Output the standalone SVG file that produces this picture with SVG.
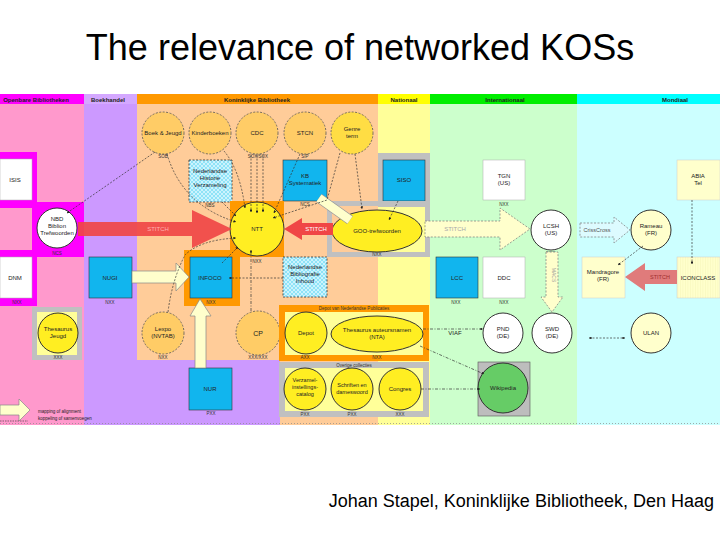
<svg xmlns="http://www.w3.org/2000/svg" width="720" height="540" viewBox="0 0 720 540">
<defs>
<style>
text{font-family:"Liberation Sans",Arial,sans-serif;fill:#222}
.title{font-size:36px;fill:#000}
.foot{font-size:18px;fill:#000}
.hdr{font-size:6px;font-weight:bold;text-anchor:middle;fill:#222}
.t{font-size:6px;text-anchor:middle}
.s{font-size:4.5px;text-anchor:middle;fill:#333}
.kc{fill:#ffcc66;stroke:#555;stroke-width:.8;stroke-dasharray:2 1.5}
.yc{fill:#ffee22;stroke:#333;stroke-width:1}
.wc{fill:#fff;stroke:#333;stroke-width:1}
.lc{fill:#ffffcc;stroke:#333;stroke-width:1}
.bb{fill:#11b5ee;stroke:#333;stroke-width:.6}
.wb{fill:#fff;stroke:#aaa;stroke-width:.5}
.lb{fill:#ffffcc;stroke:#ccc;stroke-width:.5}
.hb{fill:url(#hatch);stroke:#333;stroke-width:.8;stroke-dasharray:2 1.5}
.dsh{fill:none;stroke:#333;stroke-width:.7;stroke-dasharray:2 1.5}
.dd{fill:none;stroke:#333;stroke-width:.7;stroke-dasharray:3 1.5 1 1.5}
.la{fill:#ffffcc;stroke:#888;stroke-width:.7}
.lad{fill:#ffffcc;stroke:#777;stroke-width:.7;stroke-dasharray:2 1.5}
.ra{fill:#f04646}
.gf{fill:#c0c0c0}
.of{fill:#ff9900}
</style>
<pattern id="hatch" width="4" height="4" patternUnits="userSpaceOnUse">
<rect width="4" height="4" fill="#8fe3f7"/>
<path d="M0 0L4 4M4 0L0 4" stroke="#e6f9ff" stroke-width=".7"/>
</pattern>
<pattern id="stripes" width="2.5" height="4" patternUnits="userSpaceOnUse">
<rect width="2.5" height="4" fill="#ffffcc"/>
<path d="M0 0V4" stroke="#eeeeaa" stroke-width=".6"/>
</pattern>
<marker id="ah" viewBox="0 0 6 6" refX="5.5" refY="3" markerWidth="4" markerHeight="4" orient="auto-start-reverse">
<path d="M0 0L6 3L0 6z" fill="#222"/>
</marker>
</defs>

<rect width="720" height="540" fill="#fff"/>
<text x="360" y="60" text-anchor="middle" class="title">The relevance of networked KOSs</text>

<g id="bands">
<rect x="0" y="94" width="84" height="331" fill="#ff99cc"/>
<rect x="84" y="94" width="53" height="331" fill="#cc99ff"/>
<rect x="137" y="94" width="241" height="331" fill="#ffcc99"/>
<rect x="137" y="360" width="143" height="65" fill="#cc99ff"/>
<rect x="378" y="94" width="52" height="331" fill="#ffff99"/>
<rect x="430" y="94" width="147" height="331" fill="#ccffcc"/>
<rect x="577" y="94" width="143" height="331" fill="#ccffff"/>
<rect x="0" y="94" width="84" height="10" fill="#ff00ff"/>
<rect x="84" y="94" width="53" height="10" fill="#d4a8ff"/>
<rect x="137" y="94" width="241" height="10" fill="#ff9900"/>
<rect x="378" y="94" width="52" height="10" fill="#ffff00"/>
<rect x="430" y="94" width="147" height="10" fill="#00ee00"/>
<rect x="577" y="94" width="143" height="10" fill="#00ffff"/>
<text x="36" y="101.5" class="hdr">Openbare Bibliotheken</text>
<text x="108" y="101.5" class="hdr">Boekhandel</text>
<text x="257" y="101.5" class="hdr">Koninklijke Bibliotheek</text>
<text x="404" y="101.5" class="hdr">Nationaal</text>
<text x="505" y="101.5" class="hdr">Internationaal</text>
<text x="675" y="101.5" class="hdr">Mondiaal</text>
<line x1="0" y1="423.5" x2="720" y2="423.5" stroke="#888" stroke-width=".7" stroke-dasharray="1 2"/>
</g>

<g id="node-isis">
<rect x="0" y="152" width="37" height="53" fill="#ff00ff"/>
<rect x="0" y="159" width="32" height="41" class="wb"/>
<text x="15" y="182" class="t">ISIS</text>
<text x="20" y="206" class="s">NCS</text>
</g>
<g id="node-nbd">
<path d="M0 202H84V257H37V251H0Z" fill="#ff00ff"/>
<rect x="0" y="208" width="32" height="43" fill="#ff99cc"/>
<circle cx="57" cy="228" r="20" class="wc"/>
<text x="57" y="221" class="t">NBD<tspan x="57" dy="7">Biblion</tspan><tspan x="57" dy="7">Trefwoorden</tspan></text>
<text x="57" y="255" class="s">NCS</text>
</g>
<g id="node-dnm">
<rect x="0" y="250" width="37" height="56" fill="#ff00ff"/>
<rect x="0" y="257" width="32" height="41" class="wb"/>
<text x="15" y="280" class="t">DNM</text>
<text x="17" y="304" class="s">NXX</text>
</g>
<g id="node-thesaurus-jeugd">
<rect x="32" y="307" width="50" height="53" class="gf"/>
<rect x="37" y="312" width="40" height="43" fill="#ffff99"/>
<circle cx="58" cy="333" r="20" class="yc"/>
<text x="58" y="331" class="t">Thesaurus<tspan x="58" dy="7">Jeugd</tspan></text>
<text x="58" y="359" class="s">XXX</text>
</g>
<g id="node-nugi">
<rect x="89" y="257" width="43" height="41" class="bb"/>
<text x="110" y="280" class="t">NUGI</text>
<text x="110" y="304" class="s">NXX</text>
</g>

<g id="node-boek-jeugd">
<circle cx="163" cy="133" r="21" class="kc"/>
<text x="163" y="135" class="t">Boek &amp; Jeugd</text>
<text x="163" y="158" class="s">SOB</text>
</g>
<g id="node-kinderboeken">
<circle cx="210" cy="133" r="21" class="kc"/>
<text x="210" y="135" class="t">Kinderboeken</text>
</g>
<g id="node-cdc">
<circle cx="257" cy="133" r="21" class="kc"/>
<text x="257" y="135" class="t">CDC</text>
<text x="258" y="158" class="s">SOX/SOX</text>
</g>
<g id="node-stcn">
<circle cx="305" cy="133" r="21" class="kc"/>
<text x="305" y="135" class="t">STCN</text>
<text x="305" y="158" class="s">SIP</text>
</g>
<g id="node-genre">
<circle cx="352" cy="133" r="21" fill="#ffdd44" stroke="#555" stroke-width=".8" stroke-dasharray="2 1.5"/>
<text x="352" y="131" class="t">Genre<tspan x="352" dy="7">term</tspan></text>
</g>
<g id="node-ned-verzameling">
<rect x="189" y="160" width="43" height="42" class="hb"/>
<text x="210" y="173" class="t">Nederlandse<tspan x="210" dy="7">Historie</tspan><tspan x="210" dy="7">Verzameling</tspan></text>
<text x="210" y="207" class="s">NBS</text>
</g>
<g id="node-kb-systematiek">
<rect x="283" y="160" width="44" height="41" class="bb"/>
<text x="305" y="178" class="t">KB<tspan x="305" dy="7">Systematiek</tspan></text>
<text x="305" y="206" class="s">NCS</text>
</g>
<g id="node-ntt">
<rect x="230" y="201" width="54" height="56" class="of"/>
<circle cx="257" cy="229" r="27" class="yc"/>
<text x="257" y="231" class="t">NTT</text>
<text x="257" y="263" class="s">NXX</text>
</g>
<g id="node-infoco">
<rect x="184" y="250" width="56" height="56" class="of"/>
<rect x="190" y="257" width="42" height="41" class="bb"/>
<text x="210" y="280" class="t">INFOCO</text>
<text x="211" y="304" class="s">NXX</text>
</g>
<g id="node-ned-bibliografie">
<rect x="283" y="257" width="44" height="40" class="hb"/>
<text x="305" y="269" class="t">Nederlandse<tspan x="305" dy="7">Bibliografie</tspan><tspan x="305" dy="7">Inhoud</tspan></text>
</g>
<g id="node-lexpo">
<circle cx="163" cy="333" r="21" class="kc"/>
<text x="163" y="331" class="t">Lexpo<tspan x="163" dy="7">(NVTAB)</tspan></text>
<text x="163" y="359" class="s">NXX</text>
</g>
<g id="node-cp">
<circle cx="258" cy="333" r="22" class="kc"/>
<text x="258" y="336" class="t" style="font-size:7px">CP</text>
<text x="258" y="359" class="s">XXX/XXX</text>
</g>
<g id="node-nur">
<rect x="189" y="368" width="43" height="42" class="bb"/>
<text x="210" y="391" class="t">NUR</text>
<text x="211" y="415" class="s">PXX</text>
</g>
<g id="group-depot">
<rect x="279" y="305" width="150" height="56" class="of"/>
<rect x="285" y="312" width="138" height="43" fill="#ffff99"/>
<text x="354" y="310" class="s">Depot van Nederlandse Publicaties</text>
<circle cx="306" cy="333" r="21" class="yc"/>
<text x="306" y="335" class="t">Depot</text>
<ellipse cx="377" cy="334" rx="46" ry="18" class="yc"/>
<text x="377" y="332" class="t">Thesaurus auteursnamen<tspan x="377" dy="7">(NTA)</tspan></text>
<text x="305" y="359" class="s">AXX</text>
<text x="377" y="359" class="s">NXX</text>
</g>
<g id="group-overig">
<rect x="279" y="362" width="150" height="55" class="gf"/>
<rect x="285" y="368" width="138" height="43" fill="#ffff99"/>
<text x="354" y="366.5" class="s">Overige collecties</text>
<circle cx="305" cy="389" r="21" class="yc"/>
<text x="305" y="382" class="t" style="font-size:5.5px">Verzamel-<tspan x="305" dy="7">instellings-</tspan><tspan x="305" dy="7">catalog</tspan></text>
<circle cx="352" cy="389" r="21" class="yc"/>
<text x="352" y="387" class="t" style="font-size:5.5px">Schriften en<tspan x="352" dy="7">dameswoord</tspan></text>
<circle cx="400" cy="389" r="21" class="yc"/>
<text x="400" y="391" class="t">Congres</text>
<text x="305" y="415.5" class="s">PXX</text>
<text x="352" y="415.5" class="s">PXX</text>
<text x="400" y="415.5" class="s">XXX</text>
</g>

<g id="node-siso">
<rect x="378" y="153" width="52" height="54" class="gf"/>
<rect x="383" y="160" width="42" height="41" class="bb"/>
<text x="404" y="182" class="t">SISO</text>
<text x="403" y="205.5" class="s">NXX</text>
</g>
<g id="node-goo">
<rect x="329.5" y="203.5" width="98" height="51" fill="none" stroke="#c0c0c0" stroke-width="5"/>
<ellipse cx="377" cy="231" rx="45" ry="21" class="yc"/>
<text x="377" y="233" class="t">GOO-trefwoorden</text>
<text x="377" y="256" class="s">NXX</text>
</g>

<g id="node-tgn">
<rect x="483" y="160" width="42" height="40" class="wb"/>
<text x="504" y="178" class="t">TGN<tspan x="504" dy="7">(US)</tspan></text>
<text x="504" y="205.5" class="s">NXX</text>
</g>
<g id="node-lcsh">
<circle cx="551" cy="230" r="20" class="wc"/>
<text x="551" y="228" class="t">LCSH<tspan x="551" dy="7">(US)</tspan></text>
<text x="551" y="254.5" class="s">NXX</text>
</g>
<g id="node-lcc">
<rect x="436" y="257" width="42" height="41" class="bb"/>
<text x="457" y="280" class="t">LCC</text>
<text x="456" y="303.5" class="s">NXX</text>
</g>
<g id="node-ddc">
<rect x="483" y="257" width="42" height="41" class="wb"/>
<text x="504" y="280" class="t">DDC</text>
<text x="504" y="303.5" class="s">NXX</text>
</g>
<g id="node-pnd">
<circle cx="503" cy="333" r="20" class="wc"/>
<text x="503" y="331" class="t">PND<tspan x="503" dy="7">(DE)</tspan></text>
</g>
<g id="node-swd">
<circle cx="552" cy="333" r="20" class="wc"/>
<text x="552" y="331" class="t">SWD<tspan x="552" dy="7">(DE)</tspan></text>
</g>
<g id="node-wikipedia">
<rect x="478" y="362" width="52" height="54" fill="#bdbdbd" stroke="#555" stroke-width=".6"/>
<circle cx="503" cy="388" r="25" fill="#66cc66" stroke="#333" stroke-width="1"/>
<text x="503" y="390" class="t">Wikipedia</text>
</g>

<g id="node-rameau">
<circle cx="651" cy="230" r="20" class="lc"/>
<text x="651" y="228" class="t">Rameau<tspan x="651" dy="7">(FR)</tspan></text>
</g>
<g id="node-abia">
<rect x="677" y="160" width="43" height="40" class="lb"/>
<text x="698" y="178" class="t">ABIA<tspan x="698" dy="7">Tel</tspan></text>
</g>
<g id="node-mandragore">
<rect x="582" y="257" width="43" height="41" class="lb"/>
<text x="603" y="274" class="t">Mandragore<tspan x="603" dy="7">(FR)</tspan></text>
</g>
<g id="node-iconclass">
<rect x="677" y="257" width="43" height="41" fill="url(#stripes)" stroke="#ccc" stroke-width=".5"/>
<text x="698" y="280" class="t">ICONCLASS</text>
</g>
<g id="node-ulan">
<circle cx="651" cy="333" r="20" class="lc"/>
<text x="651" y="335" class="t">ULAN</text>
</g>

<g id="connectors">
<path d="M78 222H192V210L232 229L192 248V236H78Z" class="ra" opacity=".92"/>
<text x="158" y="231" class="t" style="fill:#ffb0b0">STITCH</text>
<path d="M333 223H302V218L284 229L302 240V235H333Z" class="ra"/>
<text x="316" y="231" class="t" style="fill:#fff">STITCH</text>
<path d="M425 221H500V208L530 229L500 250V237H425Z" class="lad"/>
<text x="455" y="231" class="t" style="fill:#aaa">STITCH</text>
<path d="M580 223H614V217L630 230L614 243V237H580Z" fill="#ddfbff" stroke="#777" stroke-width=".7" stroke-dasharray="2 1.5"/>
<text x="597" y="232" class="t" style="font-size:5.5px;fill:#555">CrissCross</text>
<path d="M677 270H645V263L625 277L645 291V284H677Z" fill="#e07b7b"/>
<text x="660" y="279" class="t" style="font-size:5.5px;fill:#a03030">STITCH</text>
<path d="M546 252V297H541L552 312L563 297H558V252Z" class="lad"/>
<text transform="translate(552 275) rotate(90)" class="t" style="font-size:5px;fill:#999">MACS</text>
<path d="M132 271H176V263L189 277L176 291V283H132Z" class="la"/>
<path d="M195 368V316H190L200 299L211 316H206V368Z" class="la"/>
<line x1="319" y1="198" x2="350" y2="220" stroke="#999" stroke-width="10"/>
<line x1="319" y1="198" x2="350" y2="220" stroke="#ffffcc" stroke-width="8.5"/>

<path d="M155 152L67 213" class="dsh" marker-end="url(#ah)"/>
<path d="M167 154Q182 205 236 222" class="dsh" marker-end="url(#ah)"/>
<path d="M224 151Q240 170 245 208" class="dsh" marker-end="url(#ah)"/>
<path d="M222 202L236 216" class="dsh" marker-end="url(#ah)"/>
<path d="M251 155V212" class="dsh" marker-end="url(#ah)"/>
<path d="M257 155V213" class="dsh" marker-end="url(#ah)"/>
<path d="M263 155V212" class="dsh" marker-end="url(#ah)"/>
<path d="M300 154L274 213" class="dsh" marker-end="url(#ah)"/>
<path d="M340 153L327 200L273 218" class="dsh" marker-end="url(#ah)"/>
<path d="M355 154L362 209" class="dsh" marker-end="url(#ah)"/>
<path d="M398 201L389 220" class="dsh" marker-end="url(#ah)"/>
<path d="M168 312Q172 280 185 255Q200 240 236 238" class="dsh" marker-end="url(#ah)"/>
<path d="M222 263L238 247" class="dsh" marker-end="url(#ah)"/>
<path d="M251 311V250" class="dd" marker-end="url(#ah)"/>
<path d="M283 278H229" class="dsh" marker-end="url(#ah)"/>
<path d="M423 329H483" class="dd" marker-end="url(#ah)"/>
<text x="455" y="335" class="t">VIAF</text>
<path d="M420 346L484 374" class="dd" marker-end="url(#ah)"/>
<path d="M421 389H480" class="dd" marker-end="url(#ah)"/>
<path d="M643 246L618 265" class="dsh" marker-end="url(#ah)"/>
<path d="M692 200V264" class="dsh" marker-end="url(#ah)"/>
<path d="M589 338H625" class="dsh" marker-start="url(#ah)" marker-end="url(#ah)"/>
</g>

<g id="legend">
<path d="M0 405H19V399L30 410L19 421V415H0Z" class="la"/>
<line x1="0" y1="421" x2="28" y2="421" stroke="#333" stroke-width=".6" stroke-dasharray="1.5 1"/>
<text x="38" y="413" style="font-size:4.5px">mapping of alignment</text>
<text x="38" y="420" style="font-size:4.5px">koppeling of samenvoegen</text>
</g>

<text x="714" y="507" text-anchor="end" class="foot">Johan Stapel, Koninklijke Bibliotheek, Den Haag</text>
</svg>
